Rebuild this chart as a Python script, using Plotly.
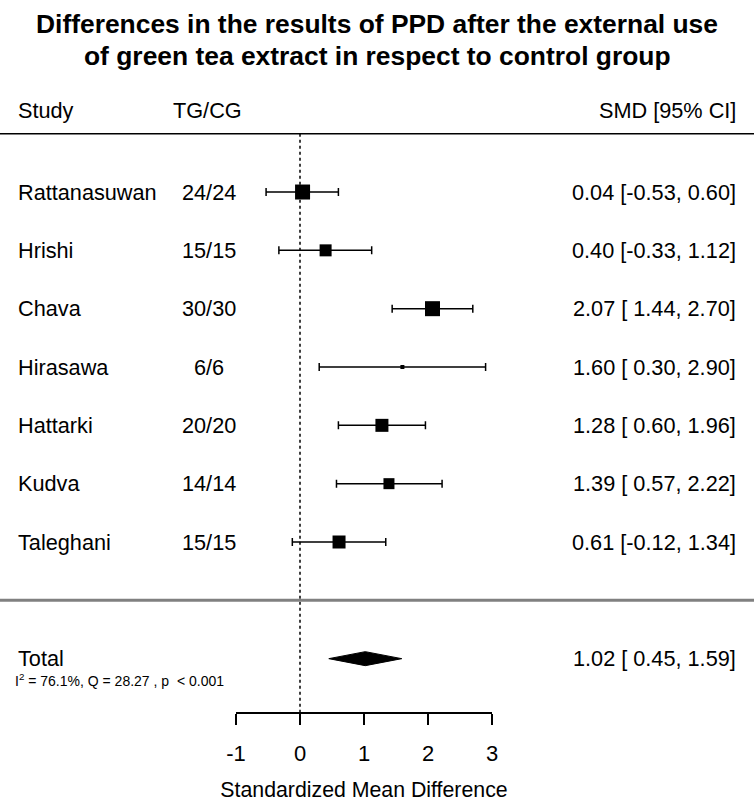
import plotly.graph_objects as go

studies = ["Rattanasuwan", "Hrishi", "Chava", "Hirasawa", "Hattarki", "Kudva", "Taleghani"]
tg_cg = ["24/24", "15/15", "30/30", "6/6", "20/20", "14/14", "15/15"]
smd = [0.04, 0.40, 2.07, 1.60, 1.28, 1.39, 0.61]
ci_low = [-0.53, -0.33, 1.44, 0.30, 0.60, 0.57, -0.12]
ci_high = [0.60, 1.12, 2.70, 2.90, 1.96, 2.22, 1.34]
weight_box = [15, 12, 15, 4, 13, 11, 13]  # box size ~ study weight

total_smd = 1.02
total_low = 0.45
total_high = 1.59
het_text = "I<sup>2</sup> = 76.1%, Q = 28.27 , p \u00a0< 0.001"

title_lines = [
    "Differences in the results of PPD after the external use",
    "of green tea extract in respect to control group",
]

x_ticks = [-1, 0, 1, 2, 3]

FONT = "Liberation Sans, Arial, sans-serif"
W, H = 754, 802

# row positions: studies from top, gap line, then total
n = len(studies)
rows = [n - i for i in range(n)]
total_row = -1
header_row = n + 1

fig = go.Figure()

# study estimates with CI
fig.add_trace(
    go.Scatter(
        x=smd,
        y=rows,
        mode="markers",
        marker=dict(symbol="square", size=weight_box, color="black", opacity=1,
                    line=dict(width=0)),
        error_x=dict(
            type="data",
            symmetric=False,
            array=[h - m for h, m in zip(ci_high, smd)],
            arrayminus=[m - l for m, l in zip(smd, ci_low)],
            color="black",
            thickness=1.5,
            width=4,
        ),
        showlegend=False,
        hoverinfo="skip",
    )
)

# pooled diamond
dh = 0.12
fig.add_trace(
    go.Scatter(
        x=[total_low, total_smd, total_high, total_smd, total_low],
        y=[total_row, total_row + dh, total_row, total_row - dh, total_row],
        mode="lines",
        fill="toself",
        fillcolor="black",
        line=dict(color="black", width=1),
        showlegend=False,
        hoverinfo="skip",
    )
)

# invisible trace to hold the bottom axis
fig.add_trace(
    go.Scatter(x=[x_ticks[0], x_ticks[-1]], y=[None, None], xaxis="x2", yaxis="y",
               mode="markers", showlegend=False, hoverinfo="skip")
)

# pixel -> data mapping for main x axis so it lines up with the bottom axis
px_m1, px_3 = 236, 492
ppu = (px_3 - px_m1) / (x_ticks[-1] - x_ticks[0])
x_min = x_ticks[0] - px_m1 / ppu
x_max = x_min + W / ppu

# y: row 1 at 542px, row spacing 58.33px
row_px = 58.33
y_max = 1 + 542 / row_px
y_min = y_max - H / row_px

axis_row = -1.93
axis_paper_y = (axis_row - y_min) / (y_max - y_min)

# header separator, gray separator, zero line
fig.add_shape(type="line", xref="paper", yref="y", x0=0, x1=1, y0=header_row, y1=header_row,
              line=dict(color="black", width=1.5))
fig.add_shape(type="line", xref="paper", yref="y", x0=0, x1=1, y0=0, y1=0,
              line=dict(color="#808080", width=3))
fig.add_shape(type="line", xref="x", yref="y", x0=0, x1=0, y0=header_row, y1=axis_row,
              line=dict(color="black", width=1.5, dash="dot"), layer="below")

# text columns
col_study = 16 / W
col_n = 209 / W
col_ci = 738 / W
FS = 21.7


def txt(x, y, s, anchor, size=FS, **kw):
    fig.add_annotation(x=x, y=y, xref="paper", yref="y", text=s, showarrow=False,
                       xanchor=anchor, yanchor="middle",
                       font=dict(family=FONT, size=size, color="black"), **kw)


# title (two lines, tight spacing)
for i, line in enumerate(title_lines):
    fig.add_annotation(x=0.5, y=1 - (24 + 32 * i) / H, xref="paper", yref="paper",
                       text=f"<b>{line}</b>", showarrow=False, xanchor="center", yanchor="middle",
                       font=dict(family=FONT, size=26.4, color="black"))

hy = header_row + 0.4
txt(col_study, hy, "Study", "left")
txt(207 / W, hy, "TG/CG", "center")
txt(col_ci, hy, "SMD [95% CI]", "right")

for r, s, nn, m, l, h in zip(rows, studies, tg_cg, smd, ci_low, ci_high):
    txt(col_study, r, s, "left")
    txt(col_n, r, nn, "center")
    txt(col_ci, r, f"{m:.2f} [{l:5.2f}, {h:.2f}]".replace(" ", "\u00a0"), "right")

txt(col_study, total_row, "Total", "left")
txt(col_ci, total_row, f"{total_smd:.2f} [{total_low:5.2f}, {total_high:.2f}]".replace(" ", "\u00a0"), "right")
txt(13 / W, total_row - 0.36, het_text, "left", size=14)

fig.update_layout(
    width=W,
    height=H,
    margin=dict(l=0, r=0, t=0, b=0, autoexpand=False),
    paper_bgcolor="white",
    plot_bgcolor="rgba(0,0,0,0)",
    xaxis=dict(range=[x_min, x_max], visible=False, fixedrange=True),
    yaxis=dict(range=[y_min, y_max], visible=False, fixedrange=True),
    xaxis2=dict(
        domain=[px_m1 / W, px_3 / W],
        range=[x_ticks[0], x_ticks[-1]],
        anchor="free",
        position=axis_paper_y,
        showline=True,
        linecolor="black",
        linewidth=1.5,
        ticks="outside",
        ticklen=11,
        tickwidth=1.5,
        tickcolor="black",
        tickvals=x_ticks,
        ticktext=[str(t) for t in x_ticks],
        ticklabelstandoff=10,
        tickfont=dict(family=FONT, size=22, color="black"),
        showgrid=False,
        zeroline=False,
        title=dict(text="Standardized Mean Difference", standoff=23,
                   font=dict(family=FONT, size=21.3, color="black")),
        fixedrange=True,
    ),
)

fig.write_html("out.html", config={"displayModeBar": False},
               post_script="document.body.style.margin='0';")
